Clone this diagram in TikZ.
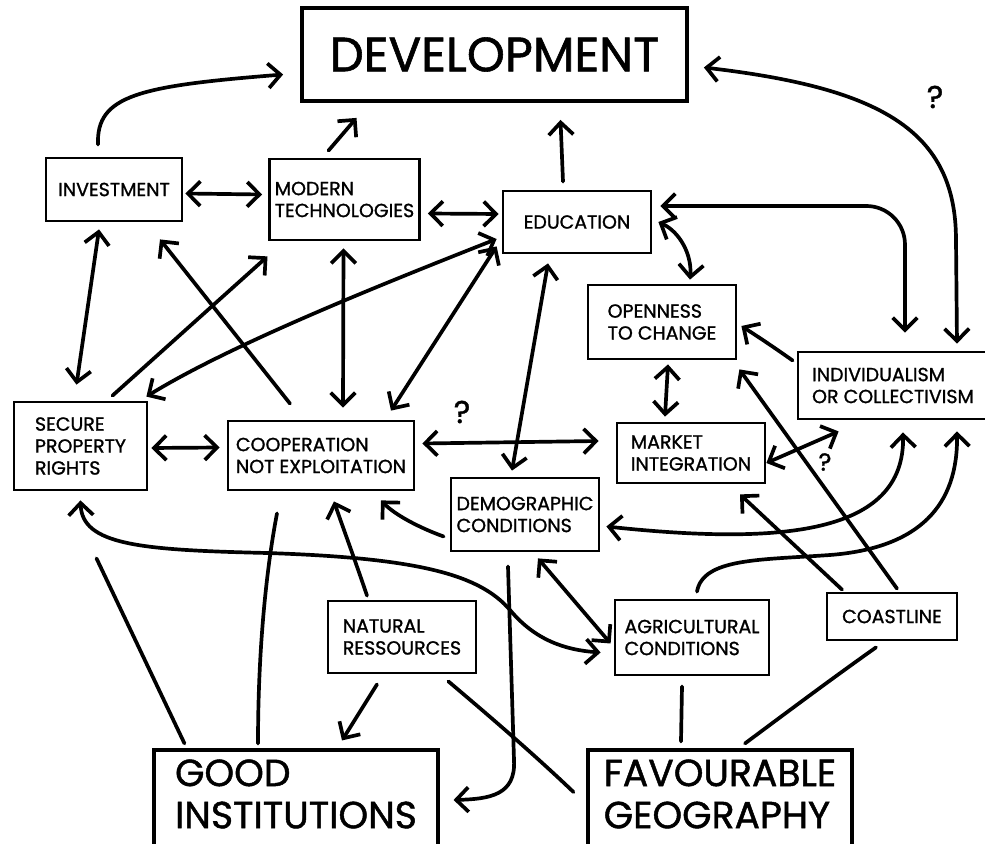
\documentclass[tikz,border=0pt]{standalone}
\usepackage{fontspec}
\setmainfont{Poppins}[UprightFeatures={FakeBold=1.2}]
\usetikzlibrary{positioning,arrows.meta,calc}

\begin{document}
\begin{tikzpicture}[x=0.02cm,y=-0.02cm,
      box/.style={rectangle, draw=black, line width=1.6pt, align=left, inner sep=3pt,
        font=\fontsize{10.8}{12.5}\selectfont},
      bigbox/.style={rectangle, draw=black, line width=1.8pt, align=left, inner sep=3pt,
        font=\fontsize{21.5}{24}\selectfont},
      tip/.tip={Straight Barb[length=7pt,width=14pt]},
      arr/.style={line width=2.1pt, line cap=round, -tip},
      biarr/.style={line width=2.1pt, line cap=round, tip-tip},
      plain/.style={line width=2.1pt, line cap=round},
      qmark/.style={font=\fontsize{18}{18}\selectfont}
      ]
      \useasboundingbox (0,0) rectangle (985,844);
      \node (dev) [bigbox, line width=2.2pt, minimum width=7.7cm, minimum height=1.86cm,
        font=\fontsize{27.5}{30}\selectfont] at (494.5,54.5) {DEVELOPMENT};
      \node (inv) [box, minimum width=2.72cm, minimum height=1.26cm] at (114,189.5) {INVESTMENT};
      \node (tech) [box, minimum width=2.98cm, minimum height=1.62cm] at (344.5,199.5) {MODERN\\TECHNOLOGIES};
      \node (edu) [box, minimum width=2.96cm, minimum height=1.24cm] at (577,222) {EDUCATION};
      \node (open) [box, minimum width=2.96cm, minimum height=1.48cm] at (662,322) {OPENNESS\\TO CHANGE};
      \node (indiv) [box, minimum width=3.8cm, minimum height=1.34cm] at (893,385.5) {INDIVIDUALISM\\OR COLLECTIVISM};
      \node (secure) [box, minimum width=2.66cm, minimum height=1.76cm] at (80.5,446) {SECURE\\PROPERTY\\RIGHTS};
      \node (coop) [box, minimum width=3.72cm, minimum height=1.38cm] at (321,455.5) {COOPERATION\\NOT EXPLOITATION};
      \node (market) [box, minimum width=2.96cm, minimum height=1.2cm] at (691,453) {MARKET\\INTEGRATION};
      \node (demo) [box, minimum width=2.96cm, minimum height=1.46cm] at (525,514.5) {DEMOGRAPHIC\\CONDITIONS};
      \node (natres) [box, minimum width=2.96cm, minimum height=1.44cm] at (402,637) {NATURAL\\RESSOURCES};
      \node (agri) [box, minimum width=3.08cm, minimum height=1.5cm] at (692,637.5) {AGRICULTURAL\\CONDITIONS};
      \node (coast) [box, minimum width=2.6cm, minimum height=0.94cm] at (892,616.5) {COASTLINE};
      \node (goodinst) [bigbox, minimum width=5.68cm, minimum height=2cm, text depth=7pt] at (296,800) {GOOD\\INSTITUTIONS};
      \node (favgeo) [bigbox, minimum width=5.28cm, minimum height=2cm, text depth=7pt] at (720,800) {FAVOURABLE\\GEOGRAPHY};
      \node (q1) [qmark] at (935,97) {?};
      \node (q2) [qmark] at (462,412) {?};
      \node (q3) [qmark, font=\fontsize{14}{14}\selectfont] at (825,462) {?};
      \draw[arr] ($(inv.north)+(-16,-12)$) .. controls (96,95) and (140,86) .. ($(dev.west)+(-17,20)$);
      \draw[arr] ($(tech.north)+(-16,-7)$) -- ($(dev.south)+(-138,15)$);
      \draw[arr] ($(edu.north)+(-14,-8)$) -- ($(dev.south)+(66,17)$);
      \draw[biarr] ($(dev.east)+(15,13)$) .. controls (880,88) and (956,130) .. (956,240) -- ($(indiv.north)+(64,-7)$);
      \draw[biarr] ($(inv.east)+(2,4)$) -- ($(tech.west)+(-6,-5)$);
      \draw[biarr] ($(tech.east)+(7,14)$) -- ($(edu.west)+(-3,-8)$);
      \draw[biarr, rounded corners=22pt] ($(edu.east)+(8,-16)$) -| ($(indiv.north)+(12,-18)$);
      \draw[biarr] ($(edu.east)+(6,0)$) .. controls (680,232) and (692,255) .. ($(open.north)+(28,-4)$);
      \draw[biarr] ($(inv.south)+(-15,7)$) -- ($(secure.north)+(-4,-16)$);
      \draw[arr] ($(secure.north)+(32,-5)$) -- ($(tech.south)+(-77,15)$);
      \draw[arr] ($(coop.north)+(-31,-16)$) -- ($(inv.south)+(46,17)$);
      \draw[biarr] ($(secure.north east)+(-2,-4)$) .. controls (230,345) and (380,285) .. ($(edu.west)+(-5,17)$);
      \draw[biarr] ($(tech.south)+(-1,7)$) -- ($(coop.north)+(22,-12)$);
      \draw[biarr] ($(edu.south west)+(-5,-8)$) -- ($(coop.north)+(70,-9)$);
      \draw[biarr] ($(secure.east)+(3,2)$) -- ($(coop.west)+(-7,-8)$);
      \draw[biarr] ($(coop.east)+(7,-12)$) -- ($(market.west)+(-17,-12)$);
      \draw[biarr] ($(edu.south)+(-29,9)$) -- ($(demo.north)+(-13,-6)$);
      \draw[biarr] ($(open.south)+(6,4)$) -- ($(market.north)+(-26,-5)$);
      \draw[arr] ($(indiv.west)+(-4,-25)$) .. controls (775,348) and (760,338) .. ($(open.east)+(4,4)$);
      \draw[arr] ($(coast.north)+(5,-3)$) -- ($(open.south east)+(2,9)$);
      \draw[arr] ($(coast.north)+(-50,-2)$) -- ($(market.south)+(49,10)$);
      \draw[biarr] ($(market.east)+(0,10)$) -- ($(indiv.south west)+(42,11)$);
      \draw[biarr] ($(demo.east)+(6,12)$) .. controls (780,545) and (905,535) .. ($(indiv.south)+(10,12)$);
      \draw[arr] ($(agri.north)+(5,-7)$) .. controls (703,558) and (760,560) .. (830,555)
        .. controls (920,548) and (958,505) .. ($(indiv.south)+(64,11)$);
      \draw[arr] ($(demo.west)+(-6,22)$) .. controls (420,528) and (395,515) .. ($(coop.south)+(60,9)$);
      \draw[biarr] ($(demo.south)+(13,6)$) -- ($(agri.west)+(-3,6)$);
      \draw[biarr] ($(secure.south)+(0,9)$) .. controls (82,545) and (140,550) .. (267,553)
        .. controls (420,558) and (480,575) .. (510,610)
        .. controls (535,640) and (565,650) .. ($(agri.west)+(-13,15)$);
      \draw[plain] ($(goodinst.north west)+(32,-5)$) -- ($(secure.south)+(16,67)$);
      \draw[plain] ($(goodinst.north)+(-38,-5)$) .. controls (258,640) and (268,560) .. ($(coop.south)+(-44,22)$);
      \draw[arr] ($(natres.north)+(-35,-4)$) .. controls (355,560) and (342,525) .. ($(coop.south)+(13,10)$);
      \draw[arr] ($(natres.south)+(-25,10)$) -- ($(goodinst.north)+(46,-8)$);
      \draw[plain] ($(natres.south east)+(-29,7)$) .. controls (500,725) and (540,760) .. ($(favgeo.west)+(-13,-8)$);
      \draw[arr] ($(demo.south)+(-17,14)$) -- (514,760) .. controls (516,795) and (490,799) .. ($(goodinst.east)+(14,0)$);
      \draw[plain] ($(agri.south)+(-10,10)$) -- ($(favgeo.north)+(-39,-7)$);
      \draw[plain] ($(coast.south)+(-16,6)$) .. controls (830,680) and (790,710) .. ($(favgeo.north)+(25,-5)$);
\end{tikzpicture}
\end{document}
